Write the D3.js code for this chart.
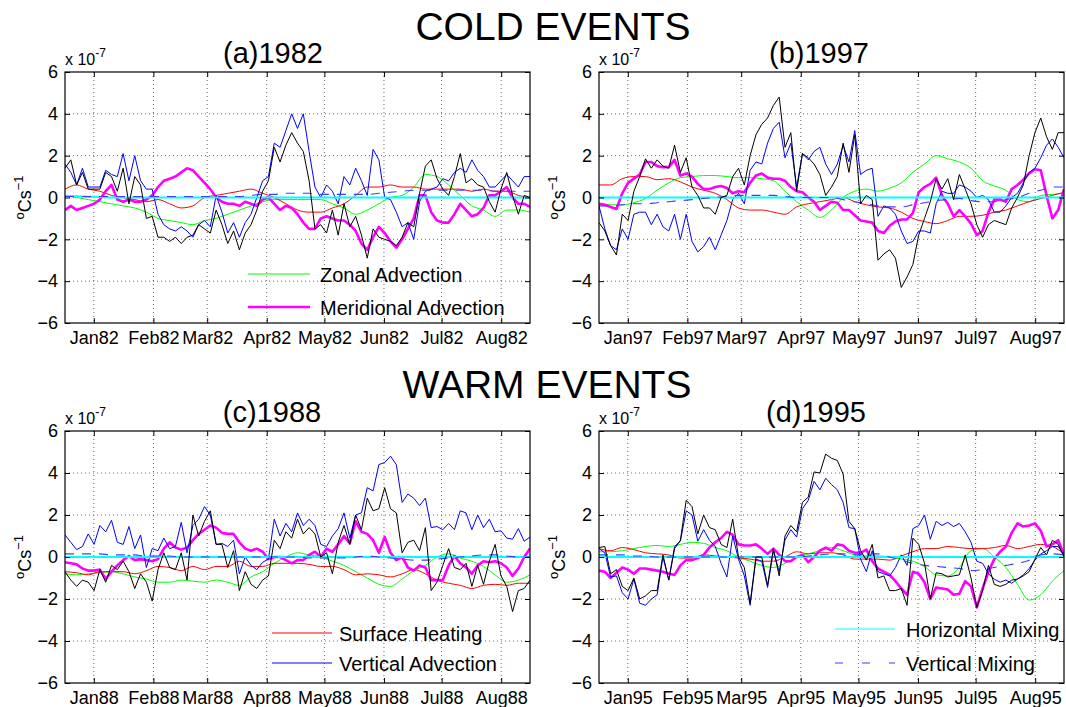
<!DOCTYPE html>
<html><head><meta charset="utf-8">
<script src="https://cdn.jsdelivr.net/npm/d3@7"></script>
<style>
body{margin:0;background:#fff}
svg text{font-family:"Liberation Sans",Arial,Helvetica,sans-serif;fill:#000}
</style>
</head><body>
<svg id="chart" width="1066" height="707"></svg>
<script>
// ---------- axis data ----------
const monthDays  = [0, 31, 59, 90, 120, 151, 181, 212];
const monthNames = ["Jan","Feb","Mar","Apr","May","Jun","Jul","Aug"];
const yTicks     = [-6, -4, -2, 0, 2, 4, 6];
const xDomain    = [-15, 227];     // days relative to 1 Jan
const nFine = 81, nCoarse = 41;    // samples per series

// ---------- (a) 1982 ----------
const a_total = [1.4,1.8,0.6,1.2,0.4,0.4,0.4,1.2,1.0,0.3,
 1.4,-0.3,1.0,0.6,-1.0,-0.9,-1.9,-1.9,-2.1,-1.9,
 -2.2,-1.9,-1.8,-1.3,-1.5,-1.7,-0.6,-1.3,-2.2,-1.6,
 -2.5,-1.7,-1.3,-0.6,0.3,0.8,2.4,1.7,2.5,3.1,
 2.6,2.2,0.8,-1.5,-1.3,-1.7,-0.6,-1.8,-0.3,-1.4,
 -0.9,-1.8,-2.9,-1.5,-1.9,-2.0,-2.1,-2.3,-1.9,-1.2,
 -1.4,0.2,1.5,1.8,0.9,0.4,0.1,1.0,2.1,0.7,
 0.9,0.6,0.5,-0.2,-0.7,0.4,1.2,0.1,-0.8,0.1,
 0.0];
const a_vadv = [1.6,1.2,0.6,1.4,0.5,0.5,0.5,1.3,1.1,1.0,
 2.1,0.8,2.0,0.8,0.4,0.4,-0.8,-1.3,-1.5,-1.6,
 -1.4,-1.6,-1.9,-1.3,-1.1,-1.4,0.1,-0.7,-1.7,-1.2,
 -1.9,-1.2,-0.8,0.0,0.8,1.0,2.6,2.4,3.2,4.0,
 3.3,4.0,2.2,0.5,0.0,0.6,0.3,-0.3,1.0,0.6,
 1.4,0.8,0.1,2.3,1.8,0.0,-0.1,-0.7,-1.4,-1.2,
 -2.0,-0.2,0.3,0.4,0.5,0.9,0.8,1.2,1.4,1.2,
 1.8,1.3,1.0,0.5,0.5,0.8,1.1,0.8,0.5,1.0,
 1.0];
const a_mer = [-0.6,-0.4,-0.6,-0.5,-0.4,-0.3,-0.1,0.3,0.6,-0.1,
 -0.2,-0.1,-0.2,-0.2,-0.1,0.1,0.5,0.8,0.9,1.0,
 1.2,1.4,1.3,1.0,0.7,0.4,0.0,-0.2,-0.3,-0.3,
 -0.4,-0.2,-0.3,-0.4,-0.1,0.0,-0.3,-0.6,-0.4,-0.5,
 -0.8,-1.2,-1.5,-1.5,-1.0,-0.9,-1.0,-1.1,-1.1,-1.3,
 -1.6,-2.2,-2.5,-1.9,-1.4,-1.7,-2.1,-2.4,-2.0,-1.5,
 -1.0,0.1,0.1,-0.7,-1.1,-1.2,-1.2,-0.8,-0.3,-0.6,
 -0.9,-0.8,-0.5,0.1,0.1,0.3,0.5,0.0,-0.3,-0.3,
 -0.45];
const a_surf = [0.4,0.6,0.4,0.3,0.1,0.0,-0.1,-0.2,-0.1,-0.3,
 -0.5,-0.4,0.0,0.1,0.2,0.3,0.4,0.2,0.0,-0.3,
 -0.6,-0.7,-0.7,-0.5,-0.3,0.1,0.5,0.5,0.6,0.5,
 0.5,0.4,0.4,0.4,0.4,0.3,0.4,0.3,0.3,0.1,
 0.0];
const a_zonal = [0.1,0.0,-0.1,-0.2,-0.3,-0.4,-0.5,-0.7,-1.0,-1.1,
 -1.2,-1.3,-1.1,-1.0,-0.8,-0.6,-0.4,-0.2,-0.1,-0.1,
 -0.1,-0.1,-0.1,-0.3,-0.5,-0.8,-0.6,-0.3,0.0,0.1,
 0.5,1.1,1.0,0.6,0.1,-0.4,-0.6,-0.9,-0.6,-0.6,
 -0.7];
const a_vmix = [0.05,0.05,0.05,0.05,0.05,0.05,0.05,0.05,0.05,0.05,
 0.05,0.05,0.05,0.05,0.05,0.05,0.1,0.15,0.15,0.2,
 0.2,0.2,0.15,0.15,0.15,0.15,0.15,0.2,0.25,0.3,
 0.35,0.35,0.35,0.35,0.35,0.35,0.35,0.3,0.3,0.3,
 0.3];
const a_hmix = [0.08,0.06,0.04,0.02,0,0,0,0,0,0,
 0,0,0,0,0,0,0,0,0,0,
 0,0,0,0,0,0,0,0,0,0,
 0,0,0,0,0,0,0,0,0,0,
 0];

// ---------- (b) 1997 ----------
const b_total = [-1.2,-1.6,-2.3,-2.75,-0.8,-1.1,0.3,1.0,1.85,1.4,
 1.8,1.5,1.4,2.5,1.2,1.9,0.5,0.1,-0.5,-0.5,
 -0.8,0.0,0.1,1.0,1.4,0.6,2.0,3.0,3.5,3.8,
 4.4,4.8,2.4,3.1,0.3,2.1,1.9,1.6,1.1,0.1,
 0.5,1.0,2.6,1.2,3.0,-0.3,0.1,-0.1,-3.0,-2.7,
 -2.5,-2.9,-4.3,-3.8,-3.2,-1.8,-1.0,-0.2,0.9,0.4,
 0.9,-0.1,1.1,0.4,-0.3,-1.3,-1.9,-1.3,-1.1,-1.2,
 -1.3,-0.5,0.0,0.6,2.0,3.1,3.8,2.9,2.3,3.1,
 3.1];
const b_vadv = [-0.4,-1.5,-2.3,-2.5,-1.5,-2.0,-0.8,-0.7,-0.7,-1.3,
 -0.8,-1.4,-1.6,-0.8,-2.0,-0.8,-2.1,-2.6,-2.35,-1.9,
 -2.5,-1.8,-1.1,-0.1,0.2,-0.3,1.3,1.7,1.6,2.6,
 3.3,3.6,1.9,2.6,0.5,2.1,1.8,2.2,2.4,1.6,
 1.1,1.6,2.5,1.7,3.2,1.1,1.3,1.4,-0.9,-0.4,
 -0.5,-0.8,-1.6,-2.2,-2.1,-1.6,-1.6,-1.7,-0.3,0.3,
 0.2,0.2,0.6,0.5,0.3,0.0,0.1,-0.1,-0.7,-0.7,
 -0.4,0.0,0.2,0.7,1.2,1.4,1.9,2.5,2.8,2.4,
 1.9];
const b_mer = [-0.3,-0.35,-0.45,-0.55,0.2,0.7,0.9,1.1,1.7,1.7,
 1.5,1.45,1.45,1.8,1.05,1.15,1.0,0.65,0.4,0.4,
 0.5,0.55,0.45,0.2,0.3,0.25,0.7,1.05,1.15,0.95,
 0.9,0.9,0.8,0.5,0.3,0.25,0.0,-0.2,-0.6,-0.4,
 -0.2,-0.25,-0.6,-0.6,-0.85,-1.1,-1.15,-1.2,-1.6,-1.7,
 -1.35,-1.15,-1.05,-1.05,-0.75,0.25,0.5,0.65,0.95,0.1,
 -0.3,-0.9,-0.6,-0.9,-1.25,-1.8,-1.6,-0.7,-0.1,-0.1,
 -0.2,0.4,0.6,0.85,1.15,1.35,1.3,0.1,-1.0,-0.6,
 0.4];
const b_surf = [0.6,0.6,0.9,1.0,1.0,0.85,0.9,0.75,0.5,0.35,
 0.2,-0.1,-0.5,-0.6,-0.6,-0.7,-0.8,-0.45,-0.3,-0.2,
 -0.1,0.0,-0.2,-0.35,-0.45,-0.5,-0.7,-1.0,-1.15,-1.25,
 -1.1,-0.9,-0.9,-0.85,-0.7,-0.6,-0.4,-0.2,-0.05,0.1,
 0.25];
const b_zonal = [-0.3,-0.35,-0.35,-0.25,-0.05,0.35,0.7,0.95,1.0,1.05,
 1.05,1.0,0.95,0.95,0.9,0.8,0.3,-0.2,-0.6,-0.95,
 -0.6,0.0,0.3,0.4,0.3,0.45,0.7,1.2,1.6,2.0,
 1.85,1.7,1.4,0.8,0.55,0.35,-0.1,-0.2,0.1,0.15,
 0.2];
const b_vmix = [-0.4,-0.4,-0.35,-0.3,-0.3,-0.25,-0.2,-0.15,-0.1,-0.05,
 0.0,0.05,0.1,0.1,0.1,0.1,0.05,0.0,0.0,0.0,
 0.0,-0.1,-0.2,-0.3,-0.4,-0.45,-0.45,-0.35,-0.25,-0.15,
 -0.1,-0.05,-0.15,-0.2,-0.2,-0.1,0.0,0.2,0.35,0.5,
 0.5];
const b_hmix = [0,0,0,0,0,0,0,0,0,0,
 0,0,0,0,0,0,0,0,0,0,
 0,0,0,0,0,0,0,0,0,0,
 0,0,0,0,0,0,0,0,0,0,
 0];

// ---------- (c) 1988 ----------
const c_total = [-0.7,-1.1,-1.4,-1.1,-1.2,-1.6,-0.6,-1.2,-0.4,-0.6,
 -0.2,-0.7,-1.5,-0.8,-1.2,-2.1,-0.6,0.2,-0.5,-0.6,
 0.2,-1.1,2.0,1.0,1.7,2.2,0.6,0.6,-0.5,0.3,
 -1.6,-0.7,-1.3,-1.5,-1.1,-0.9,0.8,0.4,1.2,0.9,
 1.8,1.1,1.4,1.1,0.0,0.2,-0.8,0.7,1.5,0.6,
 2.0,1.3,2.8,2.2,2.3,3.3,2.3,2.1,0.2,0.7,
 0.8,0.3,1.4,-1.6,-1.2,-0.4,0.4,-0.5,-0.6,-0.3,
 -1.4,-0.4,-1.3,-0.2,0.6,-0.9,-1.4,-2.6,-1.6,-1.5,
 -1.1];
const c_vadv = [1.05,0.7,0.35,0.5,1.1,0.6,1.5,1.2,1.75,0.7,
 0.6,1.45,0.4,1.05,-0.5,0.4,0.3,0.9,0.4,0.5,
 1.65,0.2,1.5,1.8,2.4,2.0,0.6,0.65,0.5,0.8,
 -0.8,0.0,-0.4,-0.6,-0.25,-0.1,1.8,1.0,1.6,1.2,
 2.1,1.5,1.8,1.5,0.6,0.5,1.0,1.35,2.1,0.9,
 2.0,2.1,3.3,3.15,4.4,4.5,4.8,4.4,2.6,3.0,
 2.8,2.45,2.8,1.4,1.45,1.3,1.6,1.3,2.2,2.1,
 1.3,2.0,1.4,1.8,1.2,1.25,0.9,0.85,1.35,0.75,
 0.95];
const c_mer = [-0.25,-0.3,-0.35,-0.55,-0.65,-0.65,-0.6,-1.05,-0.7,-0.4,
 -0.15,0.05,-0.15,-0.1,-0.15,-0.2,-0.1,0.4,0.7,0.45,
 0.35,0.45,0.8,1.1,1.3,1.5,1.4,1.15,1.1,1.1,
 0.7,0.4,0.3,0.4,0.25,-0.1,0.0,0.0,-0.15,-0.3,
 -0.15,-0.15,0.1,0.25,0.0,0.4,0.25,0.6,1.0,0.65,
 1.7,1.2,1.1,0.8,0.2,0.95,0.2,-0.15,0.0,-0.5,
 -0.65,-0.4,-0.5,-1.1,-1.1,-1.1,-0.4,0.05,-0.3,-0.5,
 -0.8,-0.4,-0.2,-0.25,-0.2,-0.3,-0.5,-0.9,-0.55,0.0,
 0.4];
const c_surf = [-0.7,-0.75,-0.85,-0.7,-0.7,-0.7,-0.8,-0.65,-0.45,-0.5,
 -0.65,-0.45,-0.6,-0.45,-0.45,-0.2,-0.45,-0.45,-0.3,-0.3,
 -0.3,-0.35,-0.45,-0.45,-0.6,-0.85,-0.8,-0.85,-0.95,-0.8,
 -0.6,-0.8,-1.1,-1.25,-1.35,-1.5,-1.35,-1.3,-1.35,-1.25,
 -1.25];
const c_zonal = [-0.8,-0.85,-0.8,-0.75,-0.7,-0.8,-0.95,-1.05,-1.2,-1.2,
 -1.1,-1.15,-1.2,-1.1,-1.2,-1.35,-0.95,-0.7,-0.3,0.0,
 0.2,0.1,0.0,-0.2,-0.4,-0.7,-1.0,-1.3,-1.4,-1.05,
 -0.65,-0.4,0.0,0.15,-0.05,-0.2,-0.45,-0.85,-1.2,-1.1,
 -0.85];
const c_vmix = [0.15,0.15,0.15,0.15,0.1,0.1,0.1,0.05,0.05,0.05,
 0.0,0.0,0.0,0.0,0.0,0.0,0.0,0.0,0.0,0.0,
 0.0,-0.05,-0.05,-0.05,-0.05,0.0,0.05,0.0,-0.05,-0.1,
 -0.15,-0.15,-0.1,-0.05,0.0,0.05,0.1,0.1,0.05,0.0,
 0.0];
const c_hmix = [0,0,0,0,0,0,0,0,0,0,
 0,0,0,0,0,0,0,0,0,0,
 0,0,0,0,0,0,0,0,0,0,
 0,0,0,0,0,0,0,0,0,0,
 0];

// ---------- (d) 1995 ----------
const d_total = [0.45,0.5,-0.8,-0.6,-1.4,-1.6,-1.0,-2.0,-1.85,-1.6,
 -1.6,0.1,-1.1,0.4,0.8,2.7,2.4,1.1,2.0,1.4,
 1.3,0.6,0.45,1.8,0.0,-0.5,-2.2,0.0,0.0,-1.35,
 0.4,-0.9,1.0,1.5,1.2,2.6,2.85,4.05,4.0,4.9,
 4.7,4.6,3.95,1.7,1.35,0.3,-0.15,0.6,-1.0,-0.9,
 -1.6,-1.6,-1.5,-2.3,0.9,0.6,-0.3,-2.0,-0.75,-0.8,
 -0.95,-0.9,-0.85,0.1,-1.0,-2.4,-1.6,-0.4,-1.3,-1.4,
 -1.3,-1.1,-1.05,-0.9,-0.7,-0.1,0.45,0.1,0.8,0.6,
 0.0];
const d_vadv = [0.4,0.2,-0.95,-0.9,-1.7,-2.0,-1.05,-2.2,-2.3,-2.0,
 -1.8,0.0,-1.1,0.5,0.75,2.2,2.0,0.75,1.3,0.8,
 0.5,-0.3,-0.95,1.0,-0.1,-0.9,-2.3,-0.1,-0.2,-1.45,
 0.3,-0.7,0.8,1.3,0.95,2.3,2.7,3.6,3.2,3.75,
 3.45,3.2,2.6,1.4,1.35,-0.1,-0.7,0.3,-0.7,-0.8,
 -0.9,-0.5,0.1,-0.4,1.35,1.5,2.0,0.85,1.7,1.5,
 1.65,1.45,1.6,1.2,0.7,-0.2,-0.3,-0.8,-1.05,-1.2,
 -1.1,-1.25,-1.05,-0.85,-0.55,-0.15,0.15,0.3,0.5,0.5,
 0.1];
const d_mer = [-0.65,-0.7,-1.0,-0.75,-0.5,-0.6,-0.8,-0.55,-0.55,-0.6,
 -0.65,-0.7,-0.8,-0.85,-0.4,-0.15,-0.15,-0.05,0.1,0.45,
 0.7,0.9,1.2,1.05,0.6,0.55,0.55,0.6,0.4,0.15,
 0.4,0.1,-0.2,-0.2,0.0,0.1,-0.25,0.0,0.3,0.45,
 0.3,0.6,0.55,0.3,0.2,0.2,0.35,-0.2,-0.55,-0.7,
 -0.85,-1.15,-1.5,-1.8,-0.7,-0.8,-1.2,-2.0,-1.45,-1.5,
 -1.55,-1.8,-1.75,-1.15,-1.4,-2.4,-1.5,-0.7,-0.1,0.25,
 0.5,1.15,1.6,1.45,1.5,1.6,1.25,0.5,0.6,0.8,
 0.1];
const d_surf = [0.4,0.3,0.45,0.35,0.2,0.15,0.1,-0.05,-0.05,0.1,
 0.05,0.0,-0.05,-0.1,-0.2,-0.2,0.0,0.25,0.15,0.2,
 0.2,0.1,-0.1,-0.1,-0.1,-0.15,0.05,0.25,0.4,0.4,
 0.5,0.45,0.4,0.4,0.45,0.55,0.4,0.5,0.6,0.5,
 0.15];
const d_zonal = [0.25,0.25,0.3,0.4,0.5,0.55,0.5,0.6,0.7,0.65,
 0.45,0.3,0.0,-0.2,-0.4,-0.5,-0.3,0.0,0.15,0.3,
 0.45,0.3,0.1,0.05,0.05,0.0,-0.1,-0.2,-0.45,-0.85,
 -0.9,-0.5,0.3,0.4,0.0,-0.5,-1.3,-2.05,-1.8,-1.15,
 -0.65];
const d_vmix = [0.1,0.1,0.1,0.05,0.05,0.0,0.0,0.0,0.0,0.0,
 0.0,0.0,0.0,0.0,0.0,0.0,0.0,0.0,0.05,0.1,
 0.15,0.15,0.1,0.15,0.15,0.0,-0.15,-0.3,-0.4,-0.45,
 -0.5,-0.55,-0.65,-0.6,-0.5,-0.4,-0.3,-0.15,0.1,0.15,
 0.1];
const d_hmix = [0,0,0,0,0,0,0,0,0,0,
 0,0,0,0,0,0,0,0,0,0,
 0,0,0,0,0,0,0,0,0,0,
 0,0,0,0,0,0,0,0,0,0,
 0];

// ---------- styles & layout ----------
const seriesStyle = {
  zonal: {color:"#00ff00", width:1,   fine:false, name:"Zonal Advection"},
  surf:  {color:"#ff0000", width:1,   fine:false, name:"Surface Heating"},
  mer:   {color:"#ff00ff", width:2.6, fine:true,  name:"Meridional Advection"},
  vadv:  {color:"#0000ff", width:1,   fine:true,  name:"Vertical Advection"},
  hmix:  {color:"#00ffff", width:2,   fine:false, legendWidth:1.2, name:"Horizontal Mixing"},
  vmix:  {color:"#3c3cff", width:1.1, fine:false, dash:"9,8", name:"Vertical Mixing"},
  total: {color:"#000000", width:1,   fine:true}
};
const drawOrder = ["zonal","surf","mer","vadv","hmix","vmix","total"];

const panels = [
  {title:"(a)1982", yy:"82", L:65,  R:530,  T:72,  B:323, tx:273,
   data:{total:a_total,vadv:a_vadv,mer:a_mer,surf:a_surf,zonal:a_zonal,vmix:a_vmix,hmix:a_hmix},
   legend:{keys:["zonal","mer"], x1:248, x2:310, tx:320, y:[274,307]}},
  {title:"(b)1997", yy:"97", L:599, R:1064, T:72,  B:323, tx:819,
   data:{total:b_total,vadv:b_vadv,mer:b_mer,surf:b_surf,zonal:b_zonal,vmix:b_vmix,hmix:b_hmix}},
  {title:"(c)1988", yy:"88", L:65,  R:530,  T:431, B:683, tx:272,
   data:{total:c_total,vadv:c_vadv,mer:c_mer,surf:c_surf,zonal:c_zonal,vmix:c_vmix,hmix:c_hmix},
   legend:{keys:["surf","vadv"], x1:272, x2:332, tx:339, y:[633,663]}},
  {title:"(d)1995", yy:"95", L:599, R:1064, T:431, B:683, tx:816,
   data:{total:d_total,vadv:d_vadv,mer:d_mer,surf:d_surf,zonal:d_zonal,vmix:d_vmix,hmix:d_hmix},
   legend:{keys:["hmix","vmix"], x1:835, x2:895, tx:906, y:[629,663]}}
];

const svg = d3.select("#chart");
svg.append("rect").attr("width",1066).attr("height",707).attr("fill","#fff");

svg.append("text").attr("x",553).attr("y",40).attr("text-anchor","middle")
   .attr("font-size",39).text("COLD EVENTS");
svg.append("text").attr("x",547).attr("y",398).attr("text-anchor","middle")
   .attr("font-size",39).text("WARM EVENTS");

const tFine   = d3.range(nFine).map(i => xDomain[0] + i*(xDomain[1]-xDomain[0])/(nFine-1));
const tCoarse = d3.range(nCoarse).map(i => xDomain[0] + i*(xDomain[1]-xDomain[0])/(nCoarse-1));

panels.forEach((p, pi) => {
  const x = d3.scaleLinear().domain(xDomain).range([p.L, p.R]);
  const y = d3.scaleLinear().domain([-6, 6]).range([p.B, p.T]);
  const g = svg.append("g");

  // grid
  g.append("g").selectAll("line").data(monthDays).join("line")
    .attr("x1", d => x(d)).attr("x2", d => x(d)).attr("y1", p.T).attr("y2", p.B)
    .attr("stroke", "#444").attr("stroke-width", 0.8).attr("stroke-dasharray", "1,3");
  g.append("g").selectAll("line").data(yTicks.slice(1, -1)).join("line")
    .attr("y1", d => y(d)).attr("y2", d => y(d)).attr("x1", p.L).attr("x2", p.R)
    .attr("stroke", "#444").attr("stroke-width", 0.8).attr("stroke-dasharray", "1,3");

  // clip
  const cid = "clip" + pi;
  svg.append("defs").append("clipPath").attr("id", cid).append("rect")
    .attr("x", p.L).attr("y", p.T).attr("width", p.R - p.L).attr("height", p.B - p.T);
  const plot = g.append("g").attr("clip-path", `url(#${cid})`);

  drawOrder.forEach(k => {
    const s = seriesStyle[k];
    const vals = p.data[k];
    const t = s.fine ? tFine : tCoarse;
    const line = d3.line().x((d, i) => x(t[i])).y(d => y(d))
      .curve(s.fine ? d3.curveLinear : d3.curveMonotoneX);
    plot.append("path").attr("d", line(vals)).attr("fill", "none")
      .attr("stroke", s.color).attr("stroke-width", s.width)
      .attr("stroke-linejoin", "round")
      .attr("stroke-dasharray", s.dash || null);
  });

  // axes
  const xAxis = d3.axisBottom(x).tickValues(monthDays)
    .tickFormat((d, i) => monthNames[i] + p.yy).tickSize(-5).tickPadding(8);
  const gx = g.append("g").attr("transform", `translate(0,${p.B})`).call(xAxis);
  gx.select(".domain").remove();
  gx.selectAll("text").attr("font-size", 18).attr("font-family", null);
  gx.selectAll("line").attr("stroke", "#000");

  const gxt = g.append("g").attr("transform", `translate(0,${p.T})`)
    .call(d3.axisTop(x).tickValues(monthDays).tickFormat("").tickSize(-5));
  gxt.select(".domain").remove();

  const yAxis = d3.axisLeft(y).tickValues(yTicks).tickSize(-5).tickPadding(7)
    .tickFormat(d3.format("d"));
  const gy = g.append("g").attr("transform", `translate(${p.L},0)`).call(yAxis);
  gy.select(".domain").remove();
  gy.selectAll("text").attr("font-size", 18).attr("font-family", null);

  const gyr = g.append("g").attr("transform", `translate(${p.R},0)`)
    .call(d3.axisRight(y).tickValues(yTicks).tickFormat("").tickSize(-5));
  gyr.select(".domain").remove();

  // frame
  g.append("rect").attr("x", p.L).attr("y", p.T)
    .attr("width", p.R - p.L).attr("height", p.B - p.T)
    .attr("fill", "none").attr("stroke", "#000").attr("stroke-width", 1.2);

  // exponent label
  const ex = g.append("text").attr("x", p.L).attr("y", p.T - 7).attr("font-size", 16);
  ex.append("tspan").text("x 10");
  ex.append("tspan").attr("font-size", 12).attr("dy", -8).text("-7");

  // y label
  const yl = g.append("text")
    .attr("transform", `translate(${p.L - 34},${(p.T + p.B) / 2}) rotate(-90)`)
    .attr("text-anchor", "middle").attr("font-size", 18);
  yl.append("tspan").attr("font-size", 13).attr("dy", -7).text("o");
  yl.append("tspan").attr("dy", 7).text("Cs");
  yl.append("tspan").attr("font-size", 13).attr("dy", -8).text("\u22121");

  // title
  g.append("text").attr("x", p.tx).attr("y", p.T - 9).attr("text-anchor", "middle")
    .attr("font-size", 29).text(p.title);

  // legend
  if (p.legend) {
    p.legend.keys.forEach((k, i) => {
      const s = seriesStyle[k];
      const ly = p.legend.y[i];
      g.append("line").attr("x1", p.legend.x1).attr("x2", p.legend.x2)
        .attr("y1", ly).attr("y2", ly).attr("stroke", s.color)
        .attr("stroke-width", s.legendWidth || s.width)
        .attr("stroke-dasharray", s.dash ? "8,19" : null);
      g.append("text").attr("x", p.legend.tx).attr("y", ly + 8)
        .attr("font-size", 20).text(s.name);
    });
  }
});
</script>
</body></html>
